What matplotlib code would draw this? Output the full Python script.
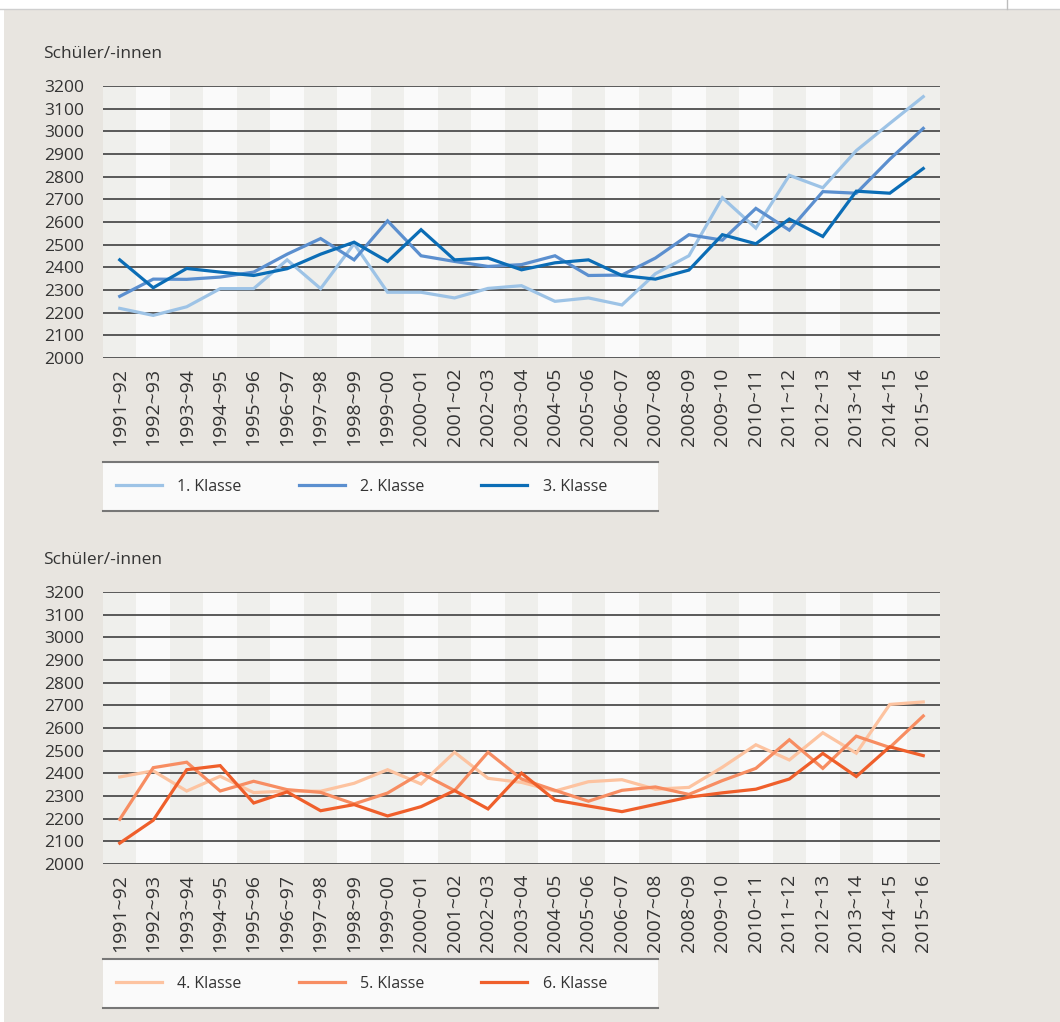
import matplotlib
matplotlib.use("Agg")
import matplotlib.pyplot as plt
from matplotlib.lines import Line2D
from matplotlib.patches import Rectangle

plt.rcParams["font.family"] = ["Open Sans", "DejaVu Sans"]

years = ["1991~92", "1992~93", "1993~94", "1994~95", "1995~96", "1996~97",
         "1997~98", "1998~99", "1999~00", "2000~01", "2001~02", "2002~03",
         "2003~04", "2004~05", "2005~06", "2006~07", "2007~08", "2008~09",
         "2009~10", "2010~11", "2011~12", "2012~13", "2013~14", "2014~15",
         "2015~16"]

klasse1 = [2219, 2188, 2226, 2306, 2306, 2433, 2306, 2504, 2290, 2290, 2265, 2307,
           2319, 2250, 2265, 2234, 2372, 2451, 2707, 2573, 2806, 2751, 2915, 3035, 3153]
klasse2 = [2272, 2348, 2347, 2357, 2379, 2458, 2527, 2433, 2605, 2451, 2426, 2404,
           2412, 2451, 2364, 2366, 2441, 2544, 2520, 2660, 2564, 2734, 2727, 2877, 3013]
klasse3 = [2433, 2310, 2395, 2379, 2364, 2394, 2458, 2511, 2426, 2566, 2433, 2441,
           2389, 2420, 2433, 2364, 2348, 2388, 2544, 2504, 2613, 2536, 2736, 2727, 2836]

klasse4 = [2384, 2411, 2322, 2387, 2315, 2322, 2321, 2356, 2416, 2353, 2493, 2378,
           2360, 2322, 2363, 2372, 2330, 2338, 2427, 2526, 2459, 2579, 2489, 2704, 2715]
klasse5 = [2197, 2425, 2449, 2322, 2365, 2328, 2316, 2265, 2313, 2401, 2324, 2493,
           2375, 2325, 2277, 2325, 2340, 2307, 2368, 2422, 2548, 2422, 2564, 2514, 2653]
klasse6 = [2092, 2193, 2416, 2434, 2269, 2318, 2235, 2262, 2212, 2253, 2324, 2243,
           2401, 2282, 2256, 2231, 2263, 2295, 2314, 2330, 2375, 2488, 2386, 2517, 2478]

yticks = list(range(2000, 3300, 100))

W, H = 1060, 1022
fig = plt.figure(figsize=(W / 100, H / 100), dpi=100)
fig.patch.set_facecolor("#e8e5e0")

# white strip along the top and left edge
fig.patches.append(Rectangle((0, 1 - 9 / H), 1, 9 / H, transform=fig.transFigure,
                             facecolor="white", edgecolor="none"))
fig.patches.append(Rectangle((0, 0), 4 / W, 1, transform=fig.transFigure,
                             facecolor="white", edgecolor="none"))
fig.add_artist(Line2D([0, 1], [1 - 9.5 / H, 1 - 9.5 / H], transform=fig.transFigure,
                      color="#cfcfcf", lw=1))
fig.add_artist(Line2D([1007 / W, 1007 / W], [1, 1 - 9.5 / H], transform=fig.transFigure,
                      color="#bdbdbd", lw=1))


def px_rect(left, top, right, bottom):
    return [left / W, 1 - bottom / H, (right - left) / W, (bottom - top) / H]


def draw_panel(top, series, colors, labels, legend_top):
    ax = fig.add_axes(px_rect(103, top, 940, top + 272))
    ax.set_facecolor("#fafafa")
    n = len(years)
    for i in range(n):
        if i % 2 == 0:
            ax.axvspan(i - 0.5, i + 0.5, color="#efefec", lw=0, zorder=0)
    for v in yticks:
        ax.axhline(v, color="#4d4d4d", lw=1.3, zorder=1)
    x = list(range(n))
    handles = []
    for s, c in zip(series, colors):
        ln, = ax.plot(x, s, color=c, lw=2.3, zorder=3, solid_joinstyle="miter")
        handles.append(ln)
    ax.set_xlim(-0.5, n - 0.5)
    ax.set_ylim(2000, 3200)
    ax.set_yticks(yticks)
    ax.set_yticklabels([str(v) for v in yticks], fontsize=12.5, color="#333333")
    ax.set_xticks(x)
    ax.set_xticklabels(years, rotation=90, fontsize=14, color="#333333")
    ax.tick_params(axis="y", length=0, pad=13.5)
    ax.tick_params(axis="x", length=0, pad=7)
    for sp in ax.spines.values():
        sp.set_visible(False)

    fig.text(43 / W, 1 - (top - 32) / H, "Schüler/-innen", fontsize=12.5,
             color="#333333", va="center", ha="left")

    lax = fig.add_axes(px_rect(103, legend_top, 658, legend_top + 49))
    lax.set_facecolor("#fafafa")
    lax.set_xticks([])
    lax.set_yticks([])
    for k in ("left", "right"):
        lax.spines[k].set_visible(False)
    for k in ("top", "bottom"):
        lax.spines[k].set_color("#777777")
        lax.spines[k].set_linewidth(1.5)
    lax.legend(handles, labels, loc="center left", bbox_to_anchor=(13 / 555, 0.5),
               ncol=3, frameon=False, fontsize=11.5, handlelength=2.9,
               handletextpad=0.95, columnspacing=3.55, borderpad=0, borderaxespad=0,
               labelcolor="#333333")
    return ax


draw_panel(86, [klasse1, klasse2, klasse3], ["#9dc3e6", "#5b8fcf", "#0b6db6"],
           ["1. Klasse", "2. Klasse", "3. Klasse"], 462)
draw_panel(592, [klasse4, klasse5, klasse6], ["#fdc3a0", "#f78d62", "#ef5f2b"],
           ["4. Klasse", "5. Klasse", "6. Klasse"], 959)

fig.savefig("out.png", dpi=100, facecolor=fig.get_facecolor())
